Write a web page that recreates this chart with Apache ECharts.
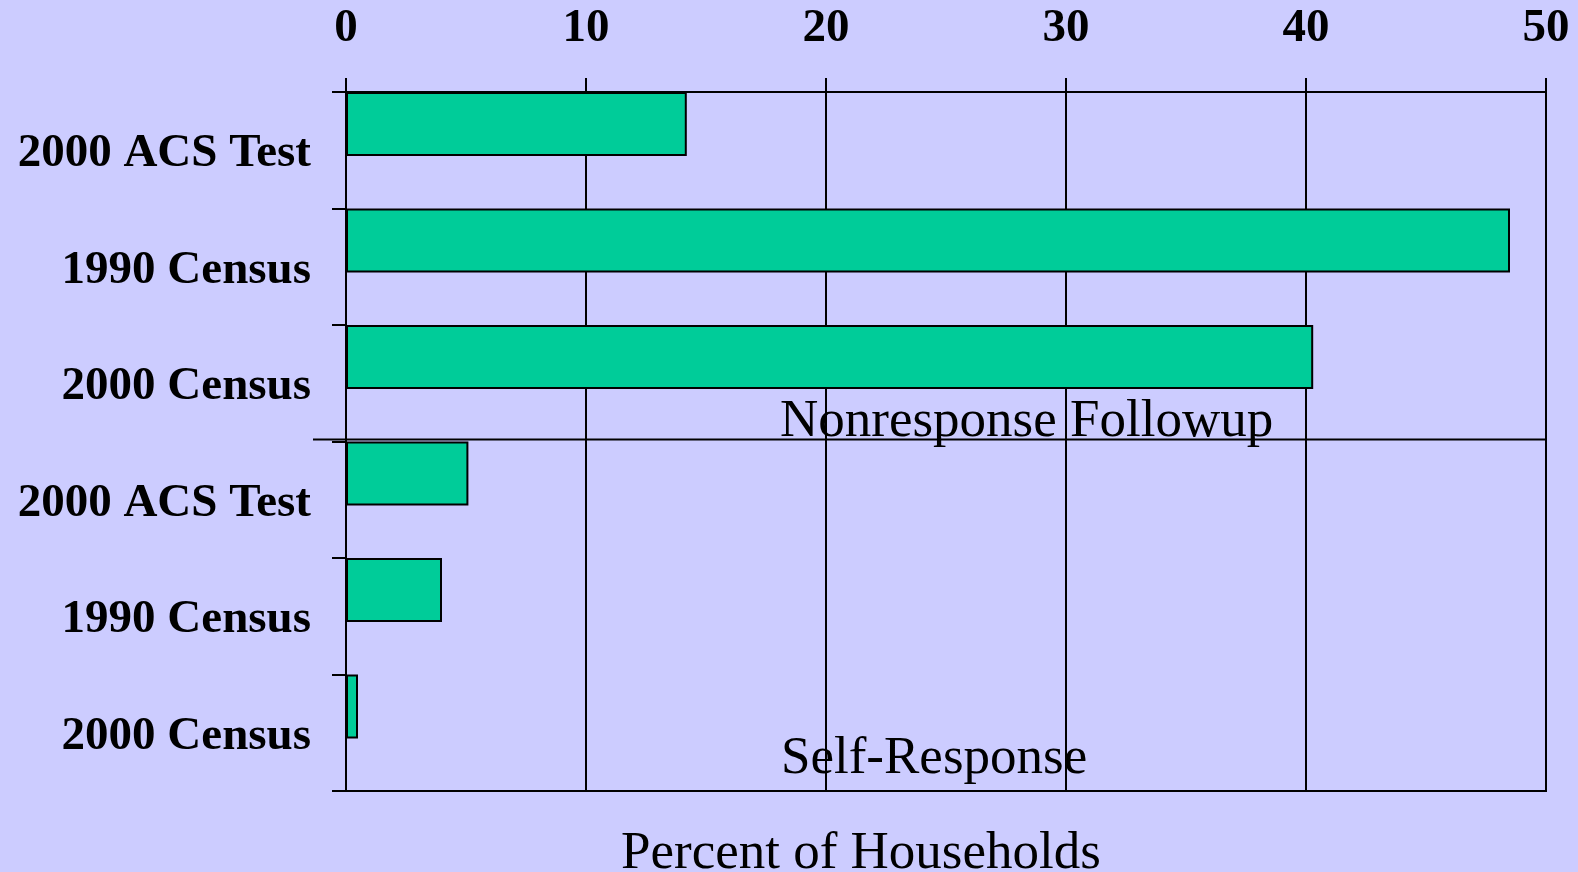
<!DOCTYPE html>
<html>
<head>
<meta charset="utf-8">
<script src="https://cdn.jsdelivr.net/npm/echarts@6/dist/echarts.min.js"></script>
<style>
  html, body { margin: 0; padding: 0; background: #ccccff; }
  #chart { width: 1578px; height: 872px; }
</style>
</head>
<body>
<div id="chart"></div>
<script>
// Nonresponse followup group (top), self-response group (bottom)
var followupLabels = ['2000 ACS Test', '1990 Census', '2000 Census']
var followupValues = [14.2, 48.5, 40.3]
var selfLabels = ['2000 ACS Test', '1990 Census', '2000 Census']
var selfValues = [5.1, 4.0, 0.5]
var xTicks = [0, 10, 20, 30, 40, 50]

var categories = followupLabels.concat(selfLabels)
var values = followupValues.concat(selfValues)

var serif = '"Liberation Serif", "Times New Roman", serif'
var gridTop = 92, gridHeight = 699, gridLeft = 346, gridWidth = 1200

var myChart = echarts.init(document.getElementById('chart'))

var options = {
  backgroundColor: '#ccccff',
  animation: false,
  grid: {
    left: gridLeft, top: gridTop, width: gridWidth, height: gridHeight,
    show: true, borderColor: '#000', borderWidth: 2, backgroundColor: 'transparent'
  },
  xAxis: {
    type: 'value',
    position: 'top',
    min: xTicks[0],
    max: xTicks[xTicks.length - 1],
    interval: 10,
    axisLine: { show: true, lineStyle: { color: '#000', width: 2 } },
    axisTick: { show: true, length: 14, lineStyle: { color: '#000', width: 2 } },
    splitLine: { show: true, lineStyle: { color: '#000', width: 2 } },
    axisLabel: {
      color: '#000', fontFamily: serif, fontWeight: 'bold', fontSize: 47,
      verticalAlign: 'middle', margin: 63
    }
  },
  yAxis: {
    type: 'category',
    inverse: true,
    data: categories,
    axisLine: { show: true, lineStyle: { color: '#000', width: 2 } },
    axisTick: { show: true, length: 14, lineStyle: { color: '#000', width: 2 } },
    axisLabel: {
      color: '#000', fontFamily: serif, fontWeight: 'bold', fontSize: 47,
      margin: 35, verticalAlign: 'top', lineHeight: 8
    }
  },
  series: [
    {
      type: 'bar',
      data: values,
      barWidth: 64,
      barGap: '-18%',
      itemStyle: { color: '#00cc99', borderColor: '#000', borderWidth: 2 }
    },
    {
      type: 'bar',
      data: values.map(function () { return null }),
      barWidth: 64,
      barGap: '-18%'
    }
  ],
  graphic: [
    {
      type: 'line', z: 10,
      shape: { x1: 313, y1: gridTop + gridHeight / 2 - 2, x2: gridLeft + gridWidth, y2: gridTop + gridHeight / 2 - 2 },
      style: { stroke: '#000', lineWidth: 2 }
    },
    {
      type: 'text', x: 780, y: 422, z: -1,
      style: { text: 'Nonresponse Followup', font: '53px ' + serif, fill: '#000', verticalAlign: 'middle' }
    },
    {
      type: 'text', x: 781, y: 759, z: -1,
      style: { text: 'Self-Response', font: '53px ' + serif, fill: '#000', verticalAlign: 'middle' }
    },
    {
      type: 'text', x: 621, y: 854, z: -1,
      style: { text: 'Percent of Households', font: '53px ' + serif, fill: '#000', verticalAlign: 'middle' }
    }
  ]
}

myChart.setOption(options)
</script>
</body>
</html>
